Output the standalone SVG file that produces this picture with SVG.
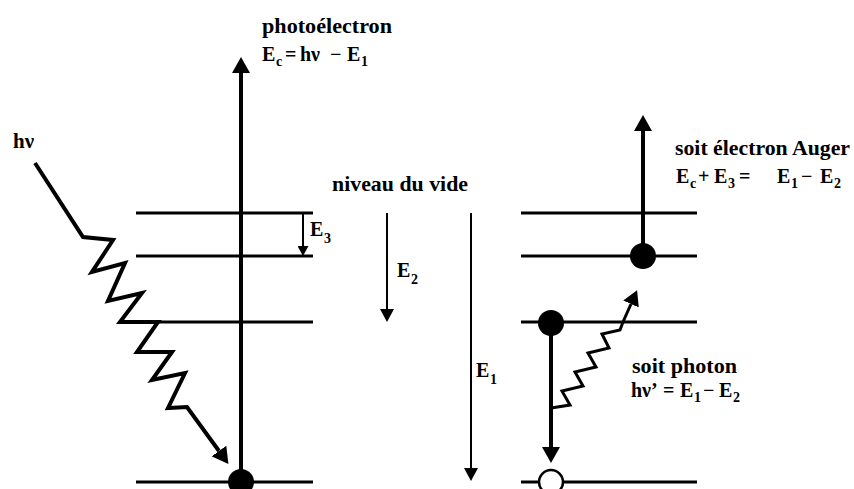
<svg xmlns="http://www.w3.org/2000/svg" width="854" height="489" viewBox="0 0 854 489">
<style>
.lvl{stroke:#000;stroke-width:3;fill:none}
.thick{stroke:#000;stroke-width:4;fill:none}
.thin{stroke:#000;stroke-width:2;fill:none}
.wave{stroke:#000;stroke-width:4;fill:none;stroke-linejoin:miter;stroke-miterlimit:10}
.wave2{stroke:#000;stroke-width:3;fill:none;stroke-linejoin:miter;stroke-miterlimit:10}
text{font-family:"Liberation Serif","Times New Roman",serif;font-weight:bold;font-size:21px;fill:#000}
.f{font-size:20px}
.sub{font-size:14px}
</style>
<defs>
<marker id="headL" markerUnits="userSpaceOnUse" markerWidth="16" markerHeight="18" viewBox="0 0 16 18" refX="0" refY="9" orient="auto"><path d="M0,0 L16,9 L0,18 z" fill="#000"/></marker>
<marker id="headM" markerUnits="userSpaceOnUse" markerWidth="15" markerHeight="17" viewBox="0 0 15 17" refX="0" refY="8.5" orient="auto"><path d="M0,0 L15,8.5 L0,17 z" fill="#000"/></marker>
<marker id="headS" markerUnits="userSpaceOnUse" markerWidth="13" markerHeight="14" viewBox="0 0 13 14" refX="0" refY="7" orient="auto"><path d="M0,0 L13,7 L0,14 z" fill="#000"/></marker>
<marker id="headXS" markerUnits="userSpaceOnUse" markerWidth="10" markerHeight="11" viewBox="0 0 10 11" refX="0" refY="5.5" orient="auto"><path d="M0,0 L10,5.5 L0,11 z" fill="#000"/></marker>
</defs>
<rect width="854" height="489" fill="#fff"/>

<g id="levels-left">
<line class="lvl" x1="136" y1="213" x2="313" y2="213"/>
<line class="lvl" x1="136" y1="256" x2="313" y2="256"/>
<line class="lvl" x1="136" y1="322" x2="313" y2="322"/>
<line class="lvl" x1="136" y1="482" x2="313" y2="482"/>
</g>
<g id="levels-right">
<line class="lvl" x1="521" y1="213" x2="697" y2="213"/>
<line class="lvl" x1="521" y1="256" x2="697" y2="256"/>
<line class="lvl" x1="521" y1="322" x2="697" y2="322"/>
<line class="lvl" x1="521" y1="482" x2="697" y2="482"/>
</g>

<g id="connectors">
<line class="thick" x1="241" y1="482" x2="241" y2="73" marker-end="url(#headL)"/>
<polyline class="wave" points="35,163 83,237 113,240 92,272 125,263 108,301 142,293 120,322 158,322 137,352 172,352 152,380 185,373 168,408 187,407 219,451" marker-end="url(#headL)"/>
<line class="thin" x1="303" y1="213" x2="303" y2="246" marker-end="url(#headXS)"/>
<line class="thin" x1="387" y1="213" x2="387" y2="309" marker-end="url(#headS)"/>
<line class="thin" x1="471" y1="213" x2="471" y2="468" marker-end="url(#headS)"/>
<line class="thick" x1="643" y1="256" x2="643" y2="131" marker-end="url(#headL)"/>
<line class="thick" x1="551" y1="323" x2="551" y2="447" marker-end="url(#headL)"/>
<polyline class="wave2" points="551,408 570,405 562,391 583,386 575,372 596,367 588,353 609,348 602,334 620,330 623,322 631,304" marker-end="url(#headM)"/>
</g>

<g id="electrons">
<circle id="e-left-1s" cx="241" cy="482" r="13" fill="#000"/>
<circle id="e-auger" cx="643" cy="256" r="13" fill="#000"/>
<circle id="e-l2" cx="551" cy="323" r="13" fill="#000"/>
<circle id="hole" cx="551" cy="482" r="12" fill="#fff" stroke="#000" stroke-width="2.5"/>
</g>

<g id="labels">
<text x="13" y="148">hν</text>
<text x="262" y="33" textLength="130" lengthAdjust="spacingAndGlyphs">photoélectron</text>
<text class="f" y="61"><tspan x="262">E</tspan><tspan class="sub" x="276" y="66">c</tspan><tspan x="285" y="61">=</tspan><tspan x="300">hν</tspan><tspan x="330">−</tspan><tspan x="347">E</tspan><tspan class="sub" x="361" y="66">1</tspan></text>
<text x="332" y="191" textLength="136" lengthAdjust="spacingAndGlyphs">niveau du vide</text>
<text class="f" y="236"><tspan x="310">E</tspan><tspan class="sub" x="324" y="243">3</tspan></text>
<text class="f" y="277"><tspan x="397">E</tspan><tspan class="sub" x="411" y="284">2</tspan></text>
<text class="f" y="377"><tspan x="476">E</tspan><tspan class="sub" x="490" y="384">1</tspan></text>
<text x="675" y="155" textLength="175" lengthAdjust="spacingAndGlyphs">soit électron Auger</text>
<text class="f" y="183"><tspan x="676">E</tspan><tspan class="sub" x="690" y="188">c</tspan><tspan x="698" y="183">+</tspan><tspan x="714">E</tspan><tspan class="sub" x="728" y="188">3</tspan><tspan x="739" y="183">=</tspan><tspan x="777">E</tspan><tspan class="sub" x="791" y="188">1</tspan><tspan x="801" y="183">−</tspan><tspan x="820">E</tspan><tspan class="sub" x="834" y="188">2</tspan></text>
<text x="632" y="373" textLength="105" lengthAdjust="spacingAndGlyphs">soit photon</text>
<text class="f" y="397"><tspan x="631">hν’</tspan><tspan x="663">=</tspan><tspan x="680">E</tspan><tspan class="sub" x="694" y="402">1</tspan><tspan x="703" y="397">−</tspan><tspan x="719">E</tspan><tspan class="sub" x="733" y="402">2</tspan></text>
</g>
</svg>
